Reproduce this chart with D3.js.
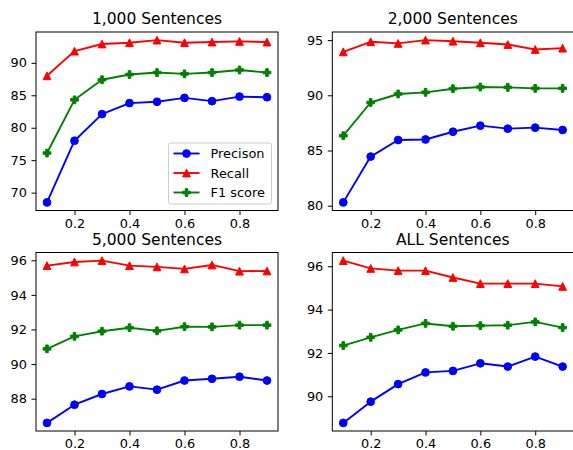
<!DOCTYPE html>
<html>
<head>
<meta charset="utf-8">
<script src="https://cdn.jsdelivr.net/npm/d3@7"></script>
<style>
  body { margin: 0; background: #fff; }
  svg { display: block; font-family: "DejaVu Sans", sans-serif; }
</style>
</head>
<body>
<div id="container"></div>
<script>
// fraction of training data used
const xs = [0.1, 0.2, 0.3, 0.4, 0.5, 0.6, 0.7, 0.8, 0.9];
const xTicks = [0.2, 0.4, 0.6, 0.8];

const titles = ["1,000 Sentences", "2,000 Sentences", "5,000 Sentences", "ALL Sentences"];
const seriesNames = ["Precison", "Recall", "F1 score"];

const precision1k = [68.5, 78.0, 82.1, 83.8, 84.0, 84.6, 84.1, 84.8, 84.7];
const recall1k    = [88.0, 91.8, 92.9, 93.1, 93.5, 93.1, 93.2, 93.3, 93.2];
const f1_1k       = [76.1, 84.3, 87.4, 88.2, 88.5, 88.3, 88.5, 88.9, 88.5];

const precision2k = [80.3, 84.45, 85.95, 86.0, 86.7, 87.25, 86.98, 87.07, 86.86];
const recall2k    = [93.94, 94.85, 94.7, 95.0, 94.9, 94.76, 94.6, 94.15, 94.27];
const f1_2k       = [86.34, 89.35, 90.12, 90.27, 90.6, 90.75, 90.72, 90.63, 90.63];

const precision5k = [86.6, 87.65, 88.27, 88.71, 88.52, 89.05, 89.15, 89.27, 89.05];
const recall5k    = [95.69, 95.9, 95.98, 95.69, 95.62, 95.5, 95.73, 95.37, 95.38];
const f1_5k       = [90.88, 91.6, 91.9, 92.1, 91.92, 92.16, 92.15, 92.25, 92.25];

const precisionAll = [88.77, 89.75, 90.56, 91.1, 91.17, 91.52, 91.37, 91.83, 91.37];
const recallAll    = [96.26, 95.9, 95.8, 95.8, 95.48, 95.2, 95.2, 95.2, 95.07];
const f1All        = [92.34, 92.72, 93.06, 93.36, 93.23, 93.26, 93.28, 93.43, 93.17];

const yTicks = [
  [70, 75, 80, 85, 90],
  [80, 85, 90, 95],
  [88, 90, 92, 94, 96],
  [90, 92, 94, 96]
];

const panelsData = [
  [precision1k, recall1k, f1_1k],
  [precision2k, recall2k, f1_2k],
  [precision5k, recall5k, f1_5k],
  [precisionAll, recallAll, f1All]
];

const colors = ["#0000ff", "#ff0000", "#008000"];
const W = 573, H = 450;
const fontTick = 12.9, fontTitle = 15.5;
const ms = 7.75; // marker size

// axes boxes [left, top, right, bottom]
const boxes = [
  [36, 32, 278, 210.5],
  [332.3, 32, 573.6, 210.5],
  [36, 252.5, 278, 431],
  [332.3, 252.5, 573.6, 431]
];

// matplotlib-like markers
const triUp = {
  draw(ctx, s) {
    const h = s / 2;
    ctx.moveTo(0, -h); ctx.lineTo(h, h); ctx.lineTo(-h, h); ctx.closePath();
  }
};
const plusFilled = {
  draw(ctx, s) {
    const a = s / 2, b = s / 6;
    ctx.moveTo(-b, -a); ctx.lineTo(b, -a); ctx.lineTo(b, -b); ctx.lineTo(a, -b);
    ctx.lineTo(a, b); ctx.lineTo(b, b); ctx.lineTo(b, a); ctx.lineTo(-b, a);
    ctx.lineTo(-b, b); ctx.lineTo(-a, b); ctx.lineTo(-a, -b); ctx.lineTo(-b, -b);
    ctx.closePath();
  }
};
const circ = {
  draw(ctx, s) { const r = s / 2; ctx.moveTo(r, 0); ctx.arc(0, 0, r, 0, 2 * Math.PI); }
};
const markers = [circ, triUp, plusFilled];

let svg = d3.select("#container").append("svg")
  .attr("width", W)
  .attr("height", H);

panelsData.forEach((series, i) => {
  const [l, t, r, b] = boxes[i];
  const g = svg.append("g");

  const x = d3.scaleLinear().domain([0.06, 0.94]).range([l, r]);
  const all = series.flat();
  const lo = d3.min(all), hi = d3.max(all), pad = (hi - lo) * 0.05;
  const y = d3.scaleLinear().domain([lo - pad, hi + pad]).range([b, t]);

  const line = d3.line().x((d, j) => x(xs[j])).y(d => y(d));

  series.forEach((vals, k) => {
    g.append("path")
      .datum(vals)
      .attr("d", line)
      .attr("fill", "none")
      .attr("stroke", colors[k])
      .attr("stroke-width", 1.9)
      .attr("stroke-linejoin", "round");

    g.selectAll(null)
      .data(vals)
      .join("path")
      .attr("transform", (d, j) => `translate(${x(xs[j])},${y(d)})`)
      .attr("d", d3.symbol().type(markers[k]).size(ms))
      .attr("fill", colors[k])
      .attr("stroke", colors[k])
      .attr("stroke-width", 1);
  });

  // spines
  g.append("rect")
    .attr("x", l).attr("y", t)
    .attr("width", r - l).attr("height", b - t)
    .attr("fill", "none")
    .attr("stroke", "#000")
    .attr("stroke-width", 1);

  const xAxis = g.append("g")
    .attr("transform", `translate(0,${b})`)
    .call(d3.axisBottom(x).tickValues(xTicks).tickFormat(d3.format(".1f")).tickSize(4.5).tickPadding(3.5));
  const yAxis = g.append("g")
    .attr("transform", `translate(${l},0)`)
    .call(d3.axisLeft(y).tickValues(yTicks[i]).tickFormat(d3.format("d")).tickSize(4.5).tickPadding(4.5));

  [xAxis, yAxis].forEach(ax => {
    ax.select(".domain").remove();
    ax.attr("font-family", "DejaVu Sans").attr("font-size", fontTick);
    ax.selectAll("text").attr("fill", "#000");
    ax.selectAll("line").attr("stroke", "#000").attr("stroke-width", 1);
  });

  g.append("text")
    .attr("x", (l + Math.min(r, W + 0.3)) / 2)
    .attr("y", t - 7.7)
    .attr("text-anchor", "middle")
    .attr("font-size", fontTitle)
    .attr("fill", "#000")
    .text(titles[i]);

  // legend only in first panel
  if (i === 0) {
    const lw = 103, lh = 61;
    const lx = r - 6.5 - lw, ly = b - 6.5 - lh;
    const lg = g.append("g");
    lg.append("rect")
      .attr("x", lx).attr("y", ly).attr("width", lw).attr("height", lh)
      .attr("rx", 2.5)
      .attr("fill", "#fff").attr("fill-opacity", 0.8)
      .attr("stroke", "#cccccc").attr("stroke-width", 1);
    seriesNames.forEach((name, k) => {
      const cy = ly + 10.5 + k * 19.5;
      lg.append("line")
        .attr("x1", lx + 5).attr("x2", lx + 31)
        .attr("y1", cy).attr("y2", cy)
        .attr("stroke", colors[k]).attr("stroke-width", 1.9);
      lg.append("path")
        .attr("transform", `translate(${lx + 18},${cy})`)
        .attr("d", d3.symbol().type(markers[k]).size(ms))
        .attr("fill", colors[k]).attr("stroke", colors[k]).attr("stroke-width", 1);
      lg.append("text")
        .attr("x", lx + 42).attr("y", cy)
        .attr("dy", "0.36em")
        .attr("font-size", fontTick)
        .attr("fill", "#000")
        .text(name);
    });
  }
});
</script>
</body>
</html>
